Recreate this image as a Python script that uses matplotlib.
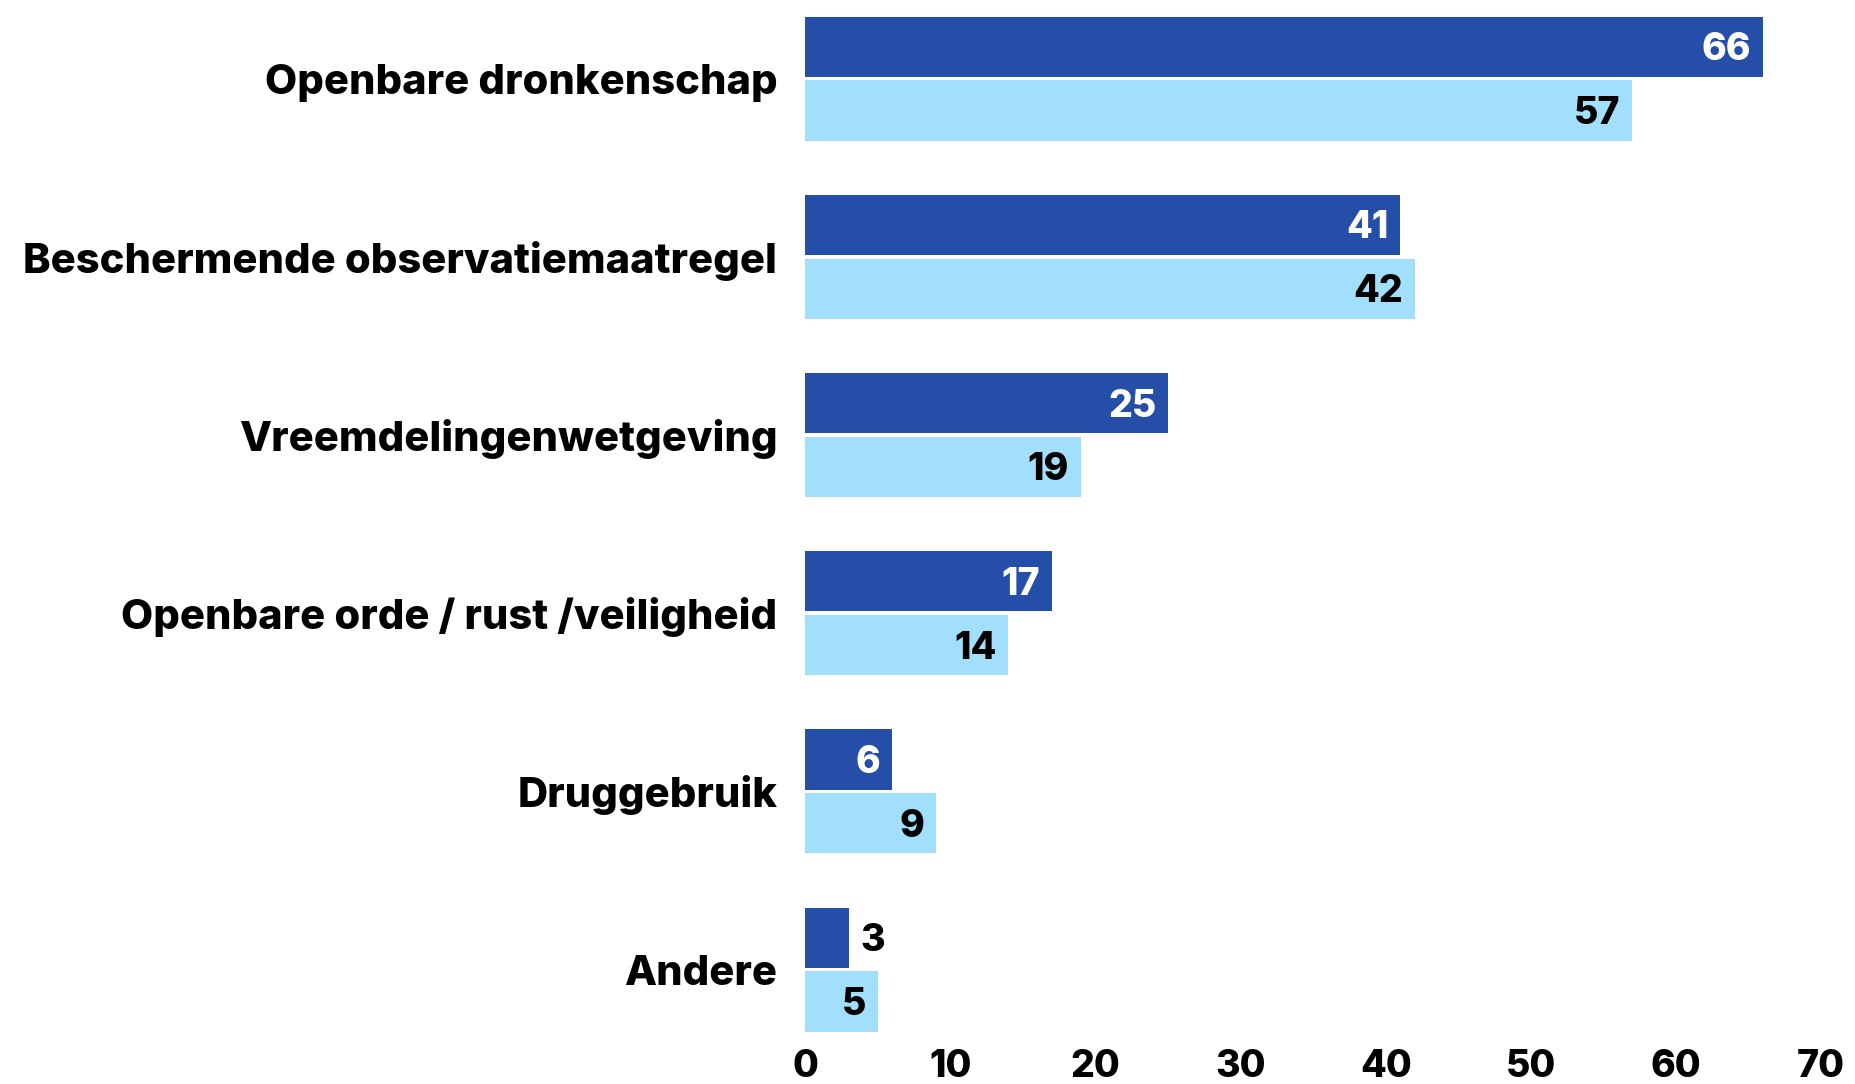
import numpy as np
import matplotlib
matplotlib.use("Agg")
import matplotlib.pyplot as plt

categories = ["Openbare dronkenschap", "Beschermende observatiemaatregel",
              "Vreemdelingenwetgeving", "Openbare orde / rust /veiligheid",
              "Druggebruik", "Andere"]
series_a = [66, 41, 25, 17, 6, 3]
series_b = [57, 42, 19, 14, 9, 5]
xticks = [0, 10, 20, 30, 40, 50, 60, 70]

dark = "#244EA8"
light = "#A2DFFC"

plt.rcParams["font.family"] = ["Inter", "DejaVu Sans"]

fig = plt.figure(figsize=(18.55, 10.84), dpi=100)
ax = fig.add_axes([0.434, 0.048, 0.5477, 0.937])

y = np.arange(len(categories))
h = 0.338
off = h / 2 + 0.01

ax.barh(y - off, series_a, height=h, color=dark)
ax.barh(y + off, series_b, height=h, color=light)

fs = 27
dy = 0.02  # nudge labels down a touch
for yi, a, b in zip(y, series_a, series_b):
    if a >= 5:
        ax.text(a - 0.8, yi - off + dy, str(a), ha="right", va="center",
                color="white", fontsize=fs, fontweight="heavy")
    else:
        ax.text(a + 0.8, yi - off + dy, str(a), ha="left", va="center",
                color="black", fontsize=fs, fontweight="heavy")
    ax.text(b - 0.8, yi + off + dy, str(b), ha="right", va="center",
            color="black", fontsize=fs, fontweight="heavy")

ax.set_xlim(0, 70)
ax.set_ylim(len(categories) - 1 + 0.35, -0.35)
ax.set_yticks(y)
ax.set_yticklabels(categories, fontsize=30, fontweight="heavy")
ax.set_xticks(xticks)
ax.set_xticklabels([str(t) for t in xticks], fontsize=fs, fontweight="heavy")
ax.tick_params(axis="y", length=0, pad=20)
ax.tick_params(axis="x", length=0, pad=12)
for s in ax.spines.values():
    s.set_visible(False)

fig.savefig("out.png", dpi=100)
